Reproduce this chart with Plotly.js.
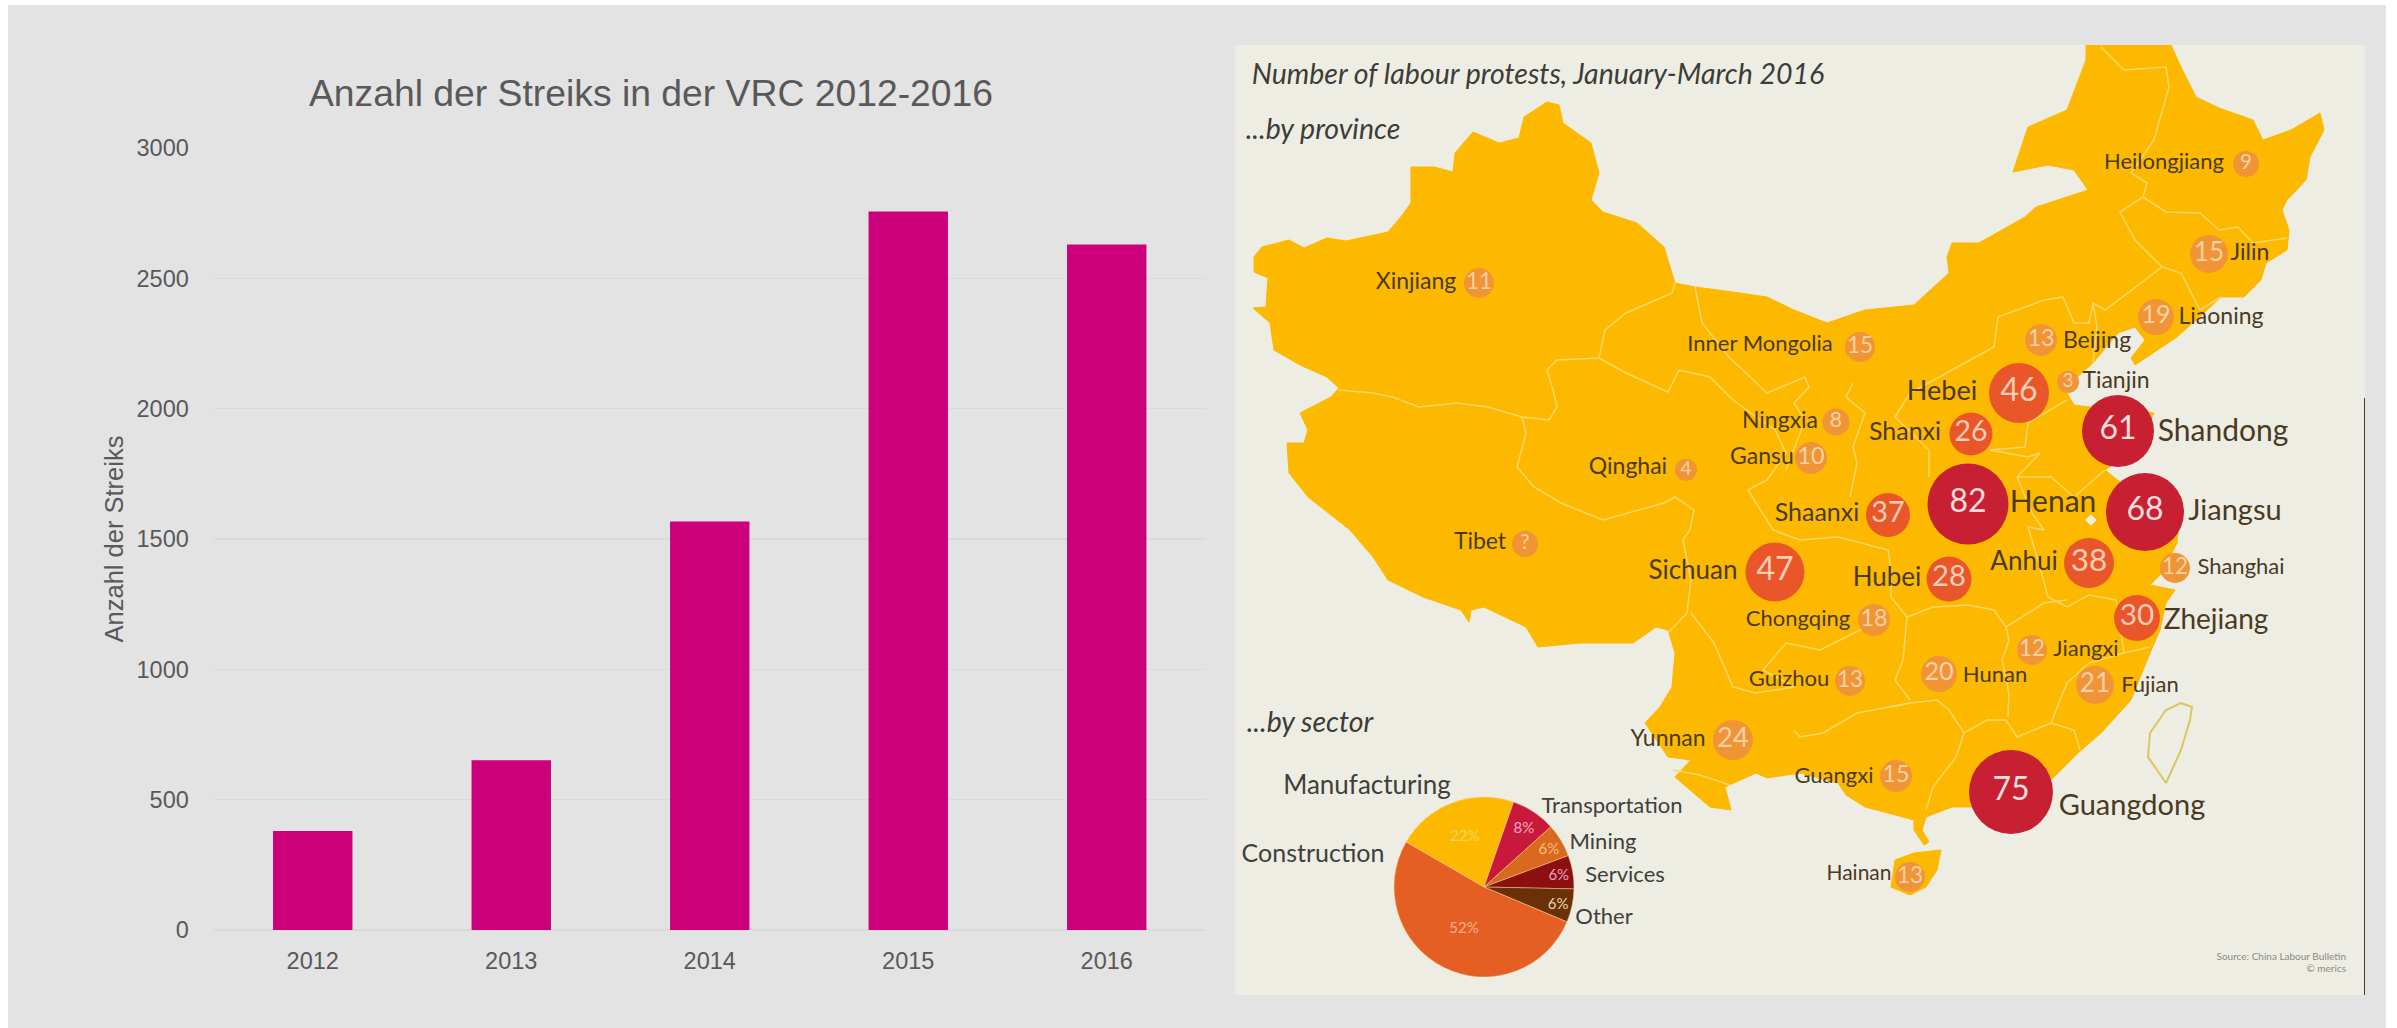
<!DOCTYPE html>
<html><head><meta charset="utf-8">
<script src="https://cdn.plot.ly/plotly-3.0.1.min.js"></script>
<style>html,body{margin:0;padding:0;background:#fff;overflow:hidden}#c{width:2397px;height:1028px}</style>
</head><body><div id="c"></div>
<script>
// ---- bar chart data
const years = ['2012','2013','2014','2015','2016'];
const strikes = [380, 651, 1567, 2756, 2630];

// ---- pie data
const sectors = ['Manufacturing','Transportation','Mining','Services','Other','Construction'];
const sectorShare = [22, 8, 6, 6, 6, 52];
const sectorColors = ['#fdb900','#c8193c','#d9691e','#8c1010','#6b2f0a','#e55f24'];
const sectorText = ['#f6d45e','#f2a8c0','#f2c080','#e8a0c8','#e6d8a8','#f4b090'];

// ---- province bubbles (map coordinates)
const provinces = ['Xinjiang','Qinghai','Ningxia','Gansu','Inner Mongolia','Heilongjiang','Jilin','Liaoning','Beijing','Tianjin','Hebei','Shanxi','Shandong','Henan','Jiangsu','Shaanxi','Anhui','Shanghai','Hubei','Sichuan','Tibet','Chongqing','Zhejiang','Jiangxi','Hunan','Fujian','Guizhou','Yunnan','Guangxi','Guangdong','Hainan'];
const protests = ['11','4','8','10','15','9','15','19','13','3','46','26','61','82','68','37','38','12','28','47','?','18','30','12','20','21','13','24','15','75','13'];
const bubbleX = [1479,1686,1836,1811,1860,2246,2209,2156,2041,2068,2019,1971,2118,1968,2145,1888,2089,2175,1949,1775,1525,1874,2137,2032,1939,2095,1850,1733,1896,2011,1910];
const bubbleY = [283,470,422,458,347,164,254,317,340,382,393,434,431,504,512,515,563,568,579,572,544,620,618,650,674,685,681,740,776,792,877];
const bubbleD = [30,22,27,32,30,26,38,36,32,22,60,43,72,81,78,44,50,30,45,59,26,32,46,30,36,38,30,40,32,84,30];
const labelX = [1416,1628,1780,1762,1760,2164,2250,2221,2097,2116,1942,1905,2223,2053,2235,1817,2024,2241,1887,1693,1480,1798,2216,2086,1995,2150,1789,1668,1834,2132,1859];
const labelY = [283,468,422,458,345,163,254,318,342,382,393,434,433,504,513,515,563,568,579,572,543,620,622,650,676,686,680,740,777,808,875];
const labelSize = [23,23,23,23,22,22,23,23,23,23,27,25,30,30,29,25,26,22,26,26,23,22,28,22,22,22,22,23,22,29,21];

// ---- map outline
const mainX = [1254,1262,1289,1304,1327,1346,1388,1400,1411,1411,1434,1453,1455,1473,1499,1519,1524,1547,1559,1563,1591,1599,1591,1603,1637,1664,1675,1695,1733,1767,1794,1827,1865,1914,1949,1947,1952,1979,2025,2036,2067,2088,2074,2048,2013,2028,2067,2086,2086,2171,2181,2196,2219,2253,2263,2291,2320,2324,2310,2306,2287,2282,2289,2287,2266,2261,2244,2221,2204,2177,2135,2131,2145,2135,2118,2093,2074,2067,2074,2089,2154,2135,2105,2130,2181,2177,2162,2150,2175,2166,2160,2150,2131,2116,2101,2078,2051,1971,1952,1926,1922,1929,1924,1914,1914,1888,1865,1846,1838,1800,1767,1756,1733,1725,1731,1710,1675,1691,1668,1645,1660,1672,1675,1668,1656,1633,1580,1538,1526,1484,1471,1469,1461,1423,1388,1373,1350,1308,1289,1287,1304,1308,1300,1331,1339,1327,1300,1274,1270,1253,1266,1268,1254,1254];
const mainY = [257,247,240,248,238,241,232,218,203,167,167,172,153,132,143,138,117,102,105,123,143,173,200,212,223,247,283,287,292,297,310,323,310,305,273,257,243,243,217,207,197,190,170,165,172,127,110,60,45,45,67,97,108,120,140,130,113,130,157,180,200,210,230,250,263,280,297,297,313,337,365,358,340,327,333,363,380,393,405,407,413,450,470,490,497,543,573,585,590,603,630,653,700,717,733,753,780,807,807,817,830,842,845,830,820,813,807,795,783,773,778,773,783,787,810,807,777,760,757,723,707,687,653,630,627,643,643,647,627,607,610,622,610,597,580,557,530,497,473,443,443,430,413,397,388,377,365,350,323,308,307,278,272,257];
const hainanX = [1895,1914,1941,1937,1926,1910,1891,1895];
const hainanY = [860,853,850,870,887,895,887,860];
const taiwanX = [2181,2192,2190,2181,2166,2148,2150,2166,2181];
const taiwanY = [703,707,720,750,783,757,733,710,703];
const borderX = [1339,1373,1392,1419,1457,1488,1522,1549,1557,1553,1547,1557,1599,null,1599,1605,1626,1672,1675,null,1522,1526,1517,1534,1561,1603,1664,1675,1694,1690,1683,1691,1687,1668,null,1599,1626,1668,1679,1710,1733,1756,1775,1786,1767,1748,null,1695,1702,1729,1756,1767,1805,1809,1794,1805,1786,null,1853,1846,1865,1853,1857,1850,null,1910,1895,1929,1929,null,1910,1952,1994,1998,2044,2063,2074,2089,2093,2105,2162,2135,2120,2143,2147,2131,2154,2169,2166,2124,2101,null,2143,2166,2200,2219,2238,2253,2287,null,2162,2181,2200,2221,null,2093,2097,2093,null,2067,2028,2025,1990,2028,2040,2017,2051,2074,2105,null,2017,2032,2044,2028,2040,2048,2067,2089,2116,null,1800,1838,1888,1891,1891,1907,1933,1968,1994,2006,2044,2067,null,2006,2009,2002,2009,2008,null,2150,2124,2089,2067,2051,2074,2080,null,2116,2124,null,2051,2017,2006,1987,1964,1949,1937,1910,1891,null,1907,1903,1895,1910,null,1964,1956,1933,1926,null,1910,1857,1823,1800,1794,null,1691,1714,1733,1756,1794,1763,1786,1820,1840,1870,null,1748,1773,1800,null,1673,1700,1730];
const borderY = [390,393,397,407,403,407,417,420,407,390,370,360,358,null,358,330,313,293,283,null,417,433,467,487,503,520,503,497,510,530,540,580,613,633,null,358,373,392,370,377,400,417,430,453,480,490,null,287,323,357,383,393,377,387,403,420,470,null,383,397,413,447,463,497,null,393,417,450,477,null,393,370,347,317,300,297,323,323,303,310,267,240,212,197,183,173,140,87,67,70,47,null,197,212,213,230,227,243,238,null,267,273,310,297,null,303,327,363,null,400,423,447,450,457,453,477,477,497,470,null,477,513,530,527,567,597,607,595,600,null,540,537,550,570,597,617,607,605,610,627,603,600,null,627,640,660,693,717,null,647,653,663,683,723,730,750,null,600,653,null,723,737,720,720,733,710,700,703,707,null,617,660,680,700,null,733,757,787,810,null,703,713,733,737,730,null,613,643,687,693,687,670,643,650,640,625,null,490,530,540,null,770,775,785];
const lakeX = [2091]; const lakeY = [520];

// ---- map text
const headTexts = ['Number of labour protests, January-March 2016','...by province','...by sector'];
const headX = [1538,1323,1310]; const headY = [77,132,725]; const headSize = [28.5,28.5,28.5];
const pieLabels = ['Manufacturing','Construction','Transportation','Mining','Services','Other'];
const pieLabelX = [1367,1313,1612,1603,1625,1604];
const pieLabelY = [787,856,807,843,876,918];
const pieLabelSize = [26,25,22,22,22,22];
const sourceLines = ['Source: China Labour Bulletin','© merics'];
const sourceX = [2346,2346]; const sourceY = [957,969];

const W=2397,H=1028;
const big = v => v>=60 ? '#c62032' : v>=26 ? '#e9562a' : '#f09436';
const bigT = v => v>=60 ? '#f9dcdc' : v>=26 ? '#f9cdb8' : '#f9d2a5';
const nums = protests.map(v=>v==='?'?7:+v);
const labelFont = 'Lato, "Open Sans", sans-serif';

const traces = [
 {type:'bar',x:years,y:strikes,marker:{color:'#cc007a'},hoverinfo:'x+y',xaxis:'x',yaxis:'y'},
 {type:'scatter',mode:'lines',x:mainX,y:mainY,fill:'toself',fillcolor:'#fdb900',line:{color:'#fdb900',width:1},xaxis:'x2',yaxis:'y2',hoverinfo:'skip'},
 {type:'scatter',mode:'lines',x:hainanX,y:hainanY,fill:'toself',fillcolor:'#fdb900',line:{color:'#fdb900',width:1},xaxis:'x2',yaxis:'y2',hoverinfo:'skip'},
 {type:'scatter',mode:'lines',x:taiwanX,y:taiwanY,line:{color:'#d8c85c',width:2},xaxis:'x2',yaxis:'y2',hoverinfo:'skip'},
 {type:'scatter',mode:'lines',x:borderX,y:borderY,connectgaps:false,line:{color:'#fbd668',width:1.5},xaxis:'x2',yaxis:'y2',hoverinfo:'skip'},
 {type:'scatter',mode:'markers',x:lakeX,y:lakeY,marker:{size:9,color:'#f3eedc',symbol:'diamond'},xaxis:'x2',yaxis:'y2',hoverinfo:'skip'},
 {type:'scatter',mode:'markers+text',x:bubbleX,y:bubbleY,text:protests,customdata:provinces,textposition:'middle center',cliponaxis:false,
  marker:{size:bubbleD,sizemode:'diameter',opacity:1,color:nums.map(big),line:{width:0}},
  textfont:{family:labelFont,size:bubbleD.map(d=>Math.max(16,Math.min(32,d*0.45+9))),color:nums.map(bigT)},xaxis:'x2',yaxis:'y2',hovertemplate:'%{customdata}: %{text}<extra></extra>'},
 {type:'scatter',mode:'text',x:labelX,y:labelY,text:provinces,textposition:'middle center',cliponaxis:false,
  textfont:{family:labelFont,size:labelSize,color:'#4a3a22'},xaxis:'x2',yaxis:'y2',hoverinfo:'skip'},
 {type:'scatter',mode:'text',x:headX,y:headY,text:headTexts.map(t=>'<i>'+t+'</i>'),textposition:'middle center',cliponaxis:false,
  textfont:{family:labelFont,size:headSize,color:'#3c3c38'},xaxis:'x2',yaxis:'y2',hoverinfo:'skip'},
 {type:'scatter',mode:'text',x:pieLabelX,y:pieLabelY,text:pieLabels,textposition:'middle center',cliponaxis:false,
  textfont:{family:labelFont,size:pieLabelSize,color:'#40403a'},xaxis:'x2',yaxis:'y2',hoverinfo:'skip'},
 {type:'scatter',mode:'text',x:sourceX,y:sourceY,text:sourceLines,textposition:'middle left',cliponaxis:false,
  textfont:{family:labelFont,size:10,color:'#8a8a84'},xaxis:'x2',yaxis:'y2',hoverinfo:'skip'},
 {type:'pie',labels:sectors,values:sectorShare,sort:false,direction:'clockwise',rotation:-60,
  marker:{colors:sectorColors,line:{color:'#f4d48a',width:0.5}},
  textinfo:'percent',textposition:'inside',insidetextorientation:'horizontal',
  textfont:{family:labelFont,size:15,color:sectorText},showlegend:false,
  domain:{x:[1394/W,1574/W],y:[(H-978)/H,(H-796)/H]}}
];

const layout = {
 width:W,height:H,margin:{l:0,r:0,t:0,b:0},paper_bgcolor:'#ffffff',plot_bgcolor:'rgba(0,0,0,0)',showlegend:false,bargap:0.6,
 font:{family:'"Liberation Sans", Arial, sans-serif',color:'#595959'},
 title:{text:'Anzahl der Streiks in der VRC 2012-2016',x:651/W,y:1-93/H,xref:'paper',yref:'paper',xanchor:'center',yanchor:'middle',font:{size:37.3,color:'#595959'}},
 xaxis:{type:'category',domain:[213.5/W,1206/W],anchor:'y',showgrid:false,zeroline:false,showline:false,ticks:'outside',ticklen:10,tickcolor:'rgba(0,0,0,0)',tickfont:{size:23.5,color:'#595959'},fixedrange:true},
 yaxis:{domain:[(H-930)/H,(H-148)/H],anchor:'x',range:[0,3000],dtick:500,gridcolor:'#dadada',gridwidth:1.5,zeroline:true,zerolinecolor:'#dadada',zerolinewidth:1.5,showline:false,ticks:'outside',ticklen:19,tickcolor:'rgba(0,0,0,0)',tickfont:{size:23.5,color:'#595959'},fixedrange:true,
  title:{text:'Anzahl der Streiks',standoff:5,font:{size:25.5,color:'#595959'}}},
 xaxis2:{domain:[1235/W,2365/W],anchor:'y2',range:[1235,2365],visible:false,fixedrange:true},
 yaxis2:{domain:[(H-995)/H,(H-45)/H],anchor:'x2',range:[995,45],visible:false,fixedrange:true},
 shapes:[
  {type:'rect',layer:'below',xref:'paper',yref:'paper',x0:8/W,x1:2386/W,y0:0,y1:1-5/H,fillcolor:'#e3e3e3',line:{width:0}},
  {type:'rect',layer:'below',xref:'x2',yref:'y2',x0:1235,x1:2365,y0:45,y1:995,fillcolor:'#eeede4',line:{width:0}},
  {type:'line',layer:'below',xref:'x2',yref:'y2',x0:2365,x1:2365,y0:398,y1:995,line:{color:'#4e3b30',width:2}}
 ]
};
Plotly.newPlot('c',traces,layout,{displayModeBar:false,staticPlot:true});
</script></body></html>
